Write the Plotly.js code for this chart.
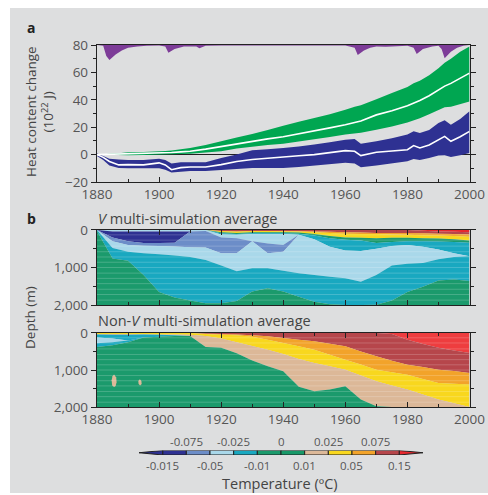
<!DOCTYPE html>
<html><head><meta charset="utf-8">
<script src="https://cdn.plot.ly/plotly-3.0.1.min.js"></script>
<style>
html,body{margin:0;padding:0;background:#ffffff;}
#chart{position:absolute;left:10px;top:8px;width:478px;height:485px;}
</style></head>
<body><div id="chart"></div>
<script>
// ---------- Panel a data ----------
const yearsA = [1880,1882,1884,1887,1890,1895,1900,1902,1904,1907,1910,1915,1920,1925,1930,1935,1940,1945,1950,1955,1960,1963,1965,1970,1975,1980,1982,1984,1987,1990,1992,1994,1997,2000];
const greenHi = [0,0.3,0.6,1,1.7,2,2.4,2.6,3,4,4.9,7,9.7,12.5,15,18,21,24,26.7,29.5,32.8,35,36,40.5,45,49.3,52,54,58,63,67,70,75,79];
const greenMid = [0,0.1,0.2,0.4,0.5,0.9,1.2,1.4,1.6,2,2.4,4,6,8,10,11.5,13,15,17,19.5,21.8,23.5,24.5,29,32,35.7,37.5,39.5,43,47,50,52,56,59.5];
const greenLo = [0,-0.2,-0.3,-0.4,-0.5,-0.2,0,0.2,0.3,0.5,0.7,1.5,2.4,4.5,6,7,8,9.5,11,12.8,14.6,15.5,16,18.2,20.5,23.5,25,26.5,29.5,32.8,34.5,35,37,38.8];
const blueHi = [1,-1,-3,-3.6,-4,-4,-3,-4,-6.5,-5.5,-5.6,-5.6,-2.4,0,3.2,4,4.9,6,7.3,9,10.9,11.4,8,9.7,12,14.6,17,15.8,18,23,25,21.8,26,31.6];
const blueMid = [0,-2,-5,-7.5,-7.3,-7.5,-6,-7.5,-11,-9.5,-9,-9,-7.3,-5,-3.6,-2.5,-1.7,-0.8,0,1.5,2.9,2.4,-0.7,1.7,2.5,3.6,6.6,4.9,7,10.9,13.3,9.7,13,17];
const blueLo = [-1,-4,-8,-9.7,-10,-10,-10,-11,-13,-12.5,-12,-12,-11.4,-10.4,-9.7,-9.7,-9.7,-9,-8,-7,-6,-6.5,-9.2,-8,-6.5,-4.9,-3.2,-4,-2.5,-0.7,-0.5,-1.7,-0.5,1.2];
const volcYears = [1880,1882,1883,1884,1886,1888,1890,1893,1896,1900,1902,1903,1905,1908,1912,1913,1915,1920,1930,1960,1963,1964,1966,1968,1970,1973,1975,1980,1982,1983,1985,1988,1990,1991,1992,1994,1996,1998,2000];
const volcDepth = [0,0.5,8,11,7,4,2,1,0.5,0.3,1,5.6,3,1,1,2.4,0.5,0.3,0.3,0.3,2,7.3,4,2,1,1.2,1,0.5,2,6.5,3,1,0.5,3,9.7,5,2,0.5,0];
const volcTop = 80;

// ---------- Panel b data (depth of lower boundary of each layer, m) ----------
const yrsB = [1880,1885,1890,1895,1900,1905,1910,1915,1920,1925,1930,1935,1940,1945,1950,1955,1960,1965,1970,1975,1980,1985,1990,1995,2000];
// V multi-simulation average, top to bottom
const vRed    = [0,0,0,0,0,0,0,0,0,0,0,0,0,0,0,0,0,0,0,0,0,20,40,50,60];
const vBrown  = [0,0,0,0,0,0,0,0,30,40,30,30,30,30,40,50,60,70,80,80,80,90,100,110,120];
const vOrange = [0,0,0,0,0,0,0,0,30,40,30,30,35,40,60,80,100,110,110,120,130,140,150,160,180];
const vYellow = [0,0,0,0,0,0,0,0,60,80,60,60,60,70,110,160,200,210,220,210,210,220,230,250,280];
const vGreenS = [0,0,0,0,0,0,0,0,90,110,90,90,90,100,150,220,260,280,350,320,300,300,310,320,340];
const vCyanS  = [0,0,0,0,0,0,0,0,120,130,110,110,110,130,250,450,550,560,500,430,400,450,520,620,700];
const vLbTop  = [0,40,40,40,40,40,40,30,200,220,300,360,400,130,250,450,550,560,500,430,400,450,520,620,700];
const vNavy   = [0,200,300,350,350,340,40,30,200,220,300,360,400,130,250,450,550,560,500,430,400,450,520,620,700];
const vMid    = [0,300,400,420,430,440,460,470,620,620,300,620,580,130,250,450,550,560,500,430,400,450,520,620,700];
const vLb     = [0,480,580,620,650,680,720,800,950,1100,1020,1020,1085,1155,1200,1245,1290,1380,1200,950,900,880,780,720,700];
const vCyan   = [30,760,820,1200,1650,1800,1880,1950,1950,1890,1640,1555,1640,1780,1910,1980,2000,2000,1990,1880,1650,1510,1350,1320,1360];
const vGreen  = [2000,2000,2000,2000,2000,2000,2000,2000,2000,2000,2000,2000,2000,2000,2000,2000,2000,2000,2000,2000,2000,2000,2000,2000,2000];
// Non-V multi-simulation average, top to bottom
const nRed    = [0,0,0,0,0,0,0,0,0,0,0,0,0,0,0,0,0,0,0,30,180,300,400,470,540];
const nBrown  = [0,0,0,0,0,0,0,20,30,40,60,90,135,180,225,290,360,500,630,750,855,920,990,1030,1080];
const nOrange = [0,0,0,0,0,0,0,30,50,60,100,180,270,360,450,590,720,850,990,1060,1125,1240,1350,1370,1395];
const nYellow = [30,30,30,30,40,40,50,80,150,250,350,450,570,700,810,900,990,1150,1305,1420,1530,1660,1800,1900,2000];
const nTan    = [40,50,50,40,50,60,80,380,400,550,740,900,1035,1450,1575,1530,1440,1800,1980,2000,2000,2000,2000,2000,2000];
const nCyanA  = [120,150,200,120,100,80,80,380,400,550,740,900,1035,1450,1575,1530,1440,1800,1980,2000,2000,2000,2000,2000,2000];
const nLb     = [280,250,200,120,100,80,80,380,400,550,740,900,1035,1450,1575,1530,1440,1800,1980,2000,2000,2000,2000,2000,2000];
const nCyanB  = [380,330,250,120,100,80,80,380,400,550,740,900,1035,1450,1575,1530,1440,1800,1980,2000,2000,2000,2000,2000,2000];
const nGreen  = vGreen;
const blobAYears = [1885.5,1886.2,1886.3,1886.0,1885.5,1884.9,1884.7,1885.0];
const blobADepth = [1120,1200,1330,1430,1460,1420,1280,1170];
const blobBYears = [1893.8,1894.3,1894.4,1893.9,1893.4,1893.3];
const blobBDepth = [1250,1300,1380,1420,1380,1300];
// faint horizontal contour streaks seen in the depth panels
const streakDepths = [130, 270, 430, 580, 720, 860, 1000, 1150, 1290, 1430, 1580, 1720, 1870];

// ---------- Colour scale ----------
const C = {navy:'#2e3192', mid:'#6c8dc8', lb:'#a9d8ea', cyan:'#19a8c0', green:'#1b9a6c', green2:'#179868',
           tan:'#dcb898', yellow:'#f8d71e', orange:'#f2a32a', brown:'#b6464b', red:'#e8282e'};
const cbColors = [C.navy, C.navy, C.mid, C.lb, C.cyan, C.green, C.green2, C.tan, C.yellow, C.orange, C.brown, C.red];
const cbUpper = ['-0.075','-0.025','0','0.025','0.075'];
const cbUpperIdx = [2,4,6,8,10];
const cbLower = ['-0.015','-0.05','-0.01','0.01','0.05','0.15'];
const cbLowerIdx = [1,3,5,7,9,11];

const BG = '#dddedf';
const FONT = 'Open Sans, sans-serif';
const traces = [];

// Panel a
traces.push({x: volcYears, y: volcYears.map(()=>volcTop), mode:'lines', line:{width:0}, hoverinfo:'skip', xaxis:'x', yaxis:'y'});
traces.push({x: volcYears, y: volcDepth.map(d=>volcTop-d), mode:'none', fill:'tonexty', fillcolor:'#7d3c98', hoverinfo:'skip', xaxis:'x', yaxis:'y'});
traces.push({x: yearsA, y: greenLo, mode:'lines', line:{width:0}, hoverinfo:'skip', xaxis:'x', yaxis:'y'});
traces.push({x: yearsA, y: greenHi, mode:'none', fill:'tonexty', fillcolor:'#00a651', hoverinfo:'skip', xaxis:'x', yaxis:'y'});
traces.push({x: yearsA, y: blueLo, mode:'lines', line:{width:0}, hoverinfo:'skip', xaxis:'x', yaxis:'y'});
traces.push({x: yearsA, y: blueHi, mode:'none', fill:'tonexty', fillcolor:'#2e3192', hoverinfo:'skip', xaxis:'x', yaxis:'y'});
traces.push({x: yearsA, y: greenMid, mode:'lines', line:{width:1.6, color:'#ffffff'}, hoverinfo:'skip', xaxis:'x', yaxis:'y'});
traces.push({x: yearsA, y: blueMid, mode:'lines', line:{width:1.6, color:'#ffffff'}, hoverinfo:'skip', xaxis:'x', yaxis:'y'});

function addLayers(layers, xa, ya){
  traces.push({x: yrsB, y: yrsB.map(()=>0), mode:'lines', line:{width:0}, hoverinfo:'skip', xaxis:xa, yaxis:ya});
  layers.forEach(([arr,col])=>{
    traces.push({x: yrsB, y: arr, mode:'none', fill:'tonexty', fillcolor:col, hoverinfo:'skip', xaxis:xa, yaxis:ya});
  });
}
function addStreaks(xa, ya){
  const x0 = yrsB[0], x1 = yrsB[yrsB.length-1];
  const xs = [], ys = [];
  streakDepths.forEach(d=>{ xs.push(x0, x1, null); ys.push(d, d, null); });
  traces.push({x: xs, y: ys, mode:'lines', line:{width:0.7, color:'rgba(255,255,255,0.28)'}, hoverinfo:'skip', xaxis:xa, yaxis:ya});
}
addLayers([[vRed,C.red],[vBrown,C.brown],[vOrange,C.orange],[vYellow,C.yellow],[vGreenS,C.green],[vCyanS,C.cyan],
           [vLbTop,C.lb],[vNavy,C.navy],[vMid,C.mid],[vLb,C.lb],[vCyan,C.cyan],[vGreen,C.green]], 'x2','y2');
addStreaks('x2','y2');
addLayers([[nRed,'#ee3d3f'],[nBrown,C.brown],[nOrange,C.orange],[nYellow,C.yellow],[nTan,C.tan],[nCyanA,C.cyan],
           [nLb,C.lb],[nCyanB,C.cyan],[nGreen,C.green]], 'x3','y3');
traces.push({x: blobAYears, y: blobADepth, mode:'none', fill:'toself', fillcolor:C.tan, hoverinfo:'skip', xaxis:'x3', yaxis:'y3'});
traces.push({x: blobBYears, y: blobBDepth, mode:'none', fill:'toself', fillcolor:C.tan, hoverinfo:'skip', xaxis:'x3', yaxis:'y3'});
addStreaks('x3','y3');

// Colour bar: rectangles for the bins, triangles for the open ends
const binIdx = cbColors.map((c,i)=>i).slice(1, cbColors.length-1);
traces.push({type:'bar', x: binIdx.map(i=>i+0.5), y: binIdx.map(()=>1), base:0, width:1,
  marker:{color: binIdx.map(i=>cbColors[i]), line:{color:'#222', width:1}}, hoverinfo:'skip', xaxis:'x4', yaxis:'y4'});
const nBins = cbColors.length;
traces.push({x:[0,1,1,0], y:[0.5,0,1,0.5], mode:'lines', fill:'toself', fillcolor:cbColors[0], line:{color:'#222',width:1}, hoverinfo:'skip', xaxis:'x4', yaxis:'y4'});
traces.push({x:[nBins,nBins-1,nBins-1,nBins], y:[0.5,0,1,0.5], mode:'lines', fill:'toself', fillcolor:cbColors[nBins-1], line:{color:'#222',width:1}, hoverinfo:'skip', xaxis:'x4', yaxis:'y4'});

const xd = [0.1820, 0.9613];
const tickFont = {family: FONT, size: 13.5, color:'#555'};
const axLine = {showline:true, linecolor:'#222', linewidth:1.2};
const yearTicks = [1880,1900,1920,1940,1960,1980,2000];

function ann(o){ return Object.assign({showarrow:false, xanchor:'center', yanchor:'middle', xref:'paper', yref:'paper'}, o); }
const annotations = [];
cbUpper.forEach((t,i)=>annotations.push(ann({xref:'x4', x: cbUpperIdx[i], y: 0.1072, text:t, font:{family:FONT,size:11.5,color:'#555'}})));
cbLower.forEach((t,i)=>annotations.push(ann({xref:'x4', x: cbLowerIdx[i], y: 0.0577, text:t, font:{family:FONT,size:11.5,color:'#555'}})));
annotations.push(ann({x:0.5649, y:0.0206, text:'Temperature (ºC)', font:{family:FONT,size:14.5,color:'#444'}}));
annotations.push(ann({x:0.0439, y:0.9588, text:'<b>a</b>', font:{family:FONT,size:14,color:'#222'}}));
annotations.push(ann({x:0.0460, y:0.567, text:'<b>b</b>', font:{family:FONT,size:14,color:'#222'}}));
annotations.push(ann({x:0.0440, y:0.7856, text:'Heat content change', textangle:-90, font:{family:FONT,size:13.5,color:'#444'}}));
annotations.push(ann({x:0.0785, y:0.7856, text:'(10<sup>22</sup> J)', textangle:-90, font:{family:FONT,size:13.5,color:'#444'}}));
annotations.push(ann({x:0.1799, y:0.567, xanchor:'left', text:'<i>V</i> multi-simulation average', font:{family:FONT,size:14.5,color:'#444'}}));
annotations.push(ann({x:0.1799, y:0.3567, xanchor:'left', text:'Non-<i>V</i> multi-simulation average', font:{family:FONT,size:14.5,color:'#444'}}));
annotations.push(ann({x:0.0418, y:0.3629, text:'Depth (m)', textangle:-90, font:{family:FONT,size:13.5,color:'#444'}}));

const depthAxis = (dom)=>Object.assign({domain:dom, range:[2000,0], tickvals:[0,1000,2000], ticktext:['0','1,000','2,000'],
  ticks:'outside', ticklen:5, tickcolor:'#222', minor:{dtick:500, ticks:'outside', ticklen:3, tickcolor:'#222'},
  mirror:'allticks', showgrid:false, zeroline:false, tickfont:tickFont, fixedrange:true}, axLine);
const yearAxis = (labels, anchor)=>Object.assign({domain:xd, range:[1880,2000], tickvals:yearTicks, ticks:'inside', ticklen:5, tickcolor:'#222',
  minor:{dtick:10, ticks:'inside', ticklen:3, tickcolor:'#222'}, showticklabels:labels, mirror:'allticks', ticklabeloverflow:'allow',
  showgrid:false, zeroline:false, tickfont:tickFont, anchor:anchor}, axLine);

const layout = {
  width:478, height:485, margin:{l:0,r:0,t:0,b:0}, paper_bgcolor:BG, plot_bgcolor:'rgba(0,0,0,0)',
  showlegend:false, font:{family:FONT}, annotations: annotations, barmode:'overlay',
  xaxis: Object.assign(yearAxis(true,'y'), {mirror:true}),
  yaxis: Object.assign({domain:[0.6412,0.9237], range:[-20,80], tickvals:[-20,0,20,40,60,80], ticks:'outside', ticklen:5, tickcolor:'#222',
    minor:{dtick:10, ticks:'outside', ticklen:3, tickcolor:'#222'}, mirror:'allticks', showgrid:false,
    zeroline:true, zerolinecolor:'#222', zerolinewidth:1.3, tickfont:tickFont, anchor:'x'}, axLine),
  xaxis2: yearAxis(false,'y2'),
  yaxis2: Object.assign(depthAxis([0.3876,0.5423]), {anchor:'x2'}),
  xaxis3: yearAxis(true,'y3'),
  yaxis3: Object.assign(depthAxis([0.1773,0.3299]), {anchor:'x3'}),
  xaxis4: {domain:[0.2699,0.8640], range:[0,nBins], visible:false, anchor:'y4', fixedrange:true},
  yaxis4: {domain:[0.0784,0.0876], range:[0,1], visible:false, anchor:'x4', fixedrange:true}
};
Plotly.newPlot('chart', traces, layout, {staticPlot:true, displayModeBar:false});
</script></body></html>
